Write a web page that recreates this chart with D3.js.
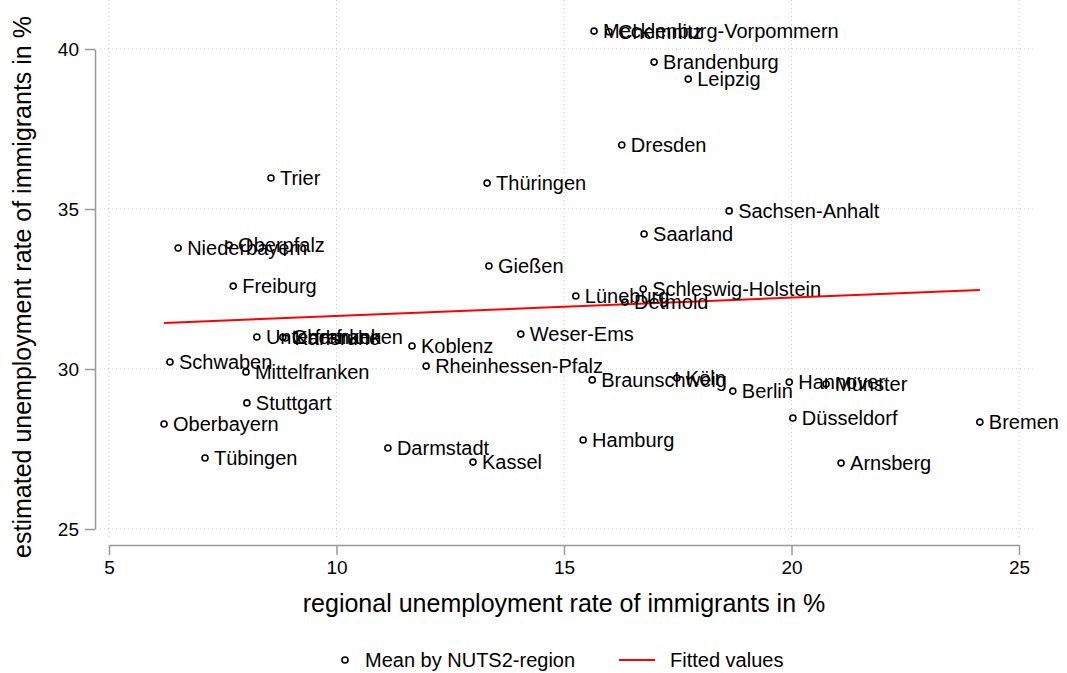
<!DOCTYPE html>
<html>
<head>
<meta charset="utf-8">
<script src="https://cdn.jsdelivr.net/npm/d3@7"></script>
<style>
  body { margin: 0; background: #fff; }
  text { font-family: "Liberation Sans", Arial, sans-serif; fill: #000; }
</style>
</head>
<body>
<svg id="chart" width="1067" height="673"></svg>
<script>
// region names, x = regional unemployment rate, y = estimated rate
const regions = ["Mecklenburg-Vorpommern", "Chemnitz", "Brandenburg", "Leipzig", "Dresden", "Trier",
  "Thüringen", "Sachsen-Anhalt", "Saarland", "Oberpfalz", "Niederbayern", "Gießen", "Freiburg",
  "Lüneburg", "Schleswig-Holstein", "Detmold", "Weser-Ems", "Unterfranken", "Oberfranken",
  "Karlsruhe", "Koblenz", "Schwaben", "Mittelfranken", "Rheinhessen-Pfalz", "Braunschweig",
  "Köln", "Berlin", "Hannover", "Münster", "Stuttgart", "Düsseldorf", "Bremen", "Oberbayern",
  "Darmstadt", "Hamburg", "Tübingen", "Kassel", "Arnsberg"];
const xVals = [15.66, 15.99, 16.98, 17.73, 16.27, 8.56,
  13.31, 18.63, 16.76, 7.64, 6.52, 13.35, 7.73,
  15.26, 16.74, 16.34, 14.05, 8.25, 8.82,
  8.88, 11.66, 6.34, 8.01, 11.97, 15.62,
  17.48, 18.71, 19.95, 20.76, 8.03, 20.03, 24.14, 6.21,
  11.13, 15.42, 7.11, 13.0, 21.09];
const yVals = [40.56, 40.54, 39.59, 39.06, 37.0, 35.97,
  35.81, 34.94, 34.22, 33.87, 33.78, 33.22, 32.59,
  32.28, 32.5, 32.09, 31.09, 31.0, 30.99,
  30.97, 30.72, 30.22, 29.91, 30.09, 29.66,
  29.72, 29.31, 29.59, 29.53, 28.94, 28.47, 28.34, 28.28,
  27.53, 27.78, 27.22, 27.09, 27.06];

// fitted line endpoints
const fitX = [6.21, 24.14];
const fitY = [31.44, 32.47];

const xTicks = [5, 10, 15, 20, 25];
const yTicks = [25, 30, 35, 40];

const svg = d3.select("#chart");

const x = d3.scaleLinear().domain([5, 25]).range([109, 1019]);
const y = d3.scaleLinear().domain([25, 40]).range([529, 49]);

const plotLeft = 100, plotRight = 1035, plotTop = 0, plotBottom = 538;

// grid lines
svg.append("g").selectAll("line.vg").data(xTicks).join("line")
    .attr("x1", d => x(d)).attr("x2", d => x(d))
    .attr("y1", plotTop).attr("y2", plotBottom)
    .attr("stroke", "#c8c8c8").attr("stroke-width", 1)
    .attr("stroke-dasharray", "1,3");

svg.append("g").selectAll("line.hg").data(yTicks).join("line")
    .attr("x1", plotLeft).attr("x2", plotRight)
    .attr("y1", d => y(d)).attr("y2", d => y(d))
    .attr("stroke", "#c8c8c8").attr("stroke-width", 1)
    .attr("stroke-dasharray", "1,3");

// axes
const yAxis = svg.append("g")
    .attr("transform", "translate(95,0)")
    .call(d3.axisLeft(y).tickValues(yTicks).tickSize(10).tickPadding(6).tickSizeOuter(0));
const xAxis = svg.append("g")
    .attr("transform", "translate(0,545)")
    .call(d3.axisBottom(x).tickValues(xTicks).tickSize(10).tickPadding(6).tickSizeOuter(0));

[xAxis, yAxis].forEach(a => {
  a.select(".domain").attr("stroke", "#999").attr("stroke-width", 1.5);
  a.selectAll(".tick line").attr("stroke", "#999").attr("stroke-width", 1.5);
  a.selectAll(".tick text").attr("font-size", 19)
    .style("font-family", "Liberation Sans, Arial, sans-serif").attr("fill", "#000");
});

// axis titles
svg.append("text")
    .attr("x", 564).attr("y", 612)
    .attr("text-anchor", "middle")
    .attr("font-size", 25)
    .text("regional unemployment rate of immigrants in %");

svg.append("text")
    .attr("transform", "translate(31,287) rotate(-90)")
    .attr("text-anchor", "middle")
    .attr("font-size", 25)
    .text("estimated unemployment rate of immigrants in %");

// fitted line
svg.append("line")
    .attr("x1", x(fitX[0])).attr("y1", y(fitY[0]))
    .attr("x2", x(fitX[1])).attr("y2", y(fitY[1]))
    .attr("stroke", "#ff0000").attr("stroke-width", 2);

// points and labels
const pts = regions.map((r, i) => ({ name: r, x: xVals[i], y: yVals[i] }));

svg.append("g").selectAll("circle").data(pts).join("circle")
    .attr("cx", d => x(d.x)).attr("cy", d => y(d.y))
    .attr("r", 3)
    .attr("fill", "none").attr("stroke", "#000").attr("stroke-width", 1.6);

svg.append("g").selectAll("text").data(pts).join("text")
    .attr("x", d => x(d.x) + 9).attr("y", d => y(d.y) + 7)
    .attr("font-size", 20)
    .text(d => d.name);

// legend
const leg = svg.append("g");
leg.append("circle").attr("cx", 345).attr("cy", 660).attr("r", 3)
    .attr("fill", "none").attr("stroke", "#000").attr("stroke-width", 1.6);
leg.append("text").attr("x", 365).attr("y", 667).attr("font-size", 20).text("Mean by NUTS2-region");
leg.append("line").attr("x1", 619).attr("x2", 655).attr("y1", 660).attr("y2", 660)
    .attr("stroke", "#ff0000").attr("stroke-width", 2);
leg.append("text").attr("x", 670).attr("y", 667).attr("font-size", 20).text("Fitted values");
</script>
</body>
</html>
